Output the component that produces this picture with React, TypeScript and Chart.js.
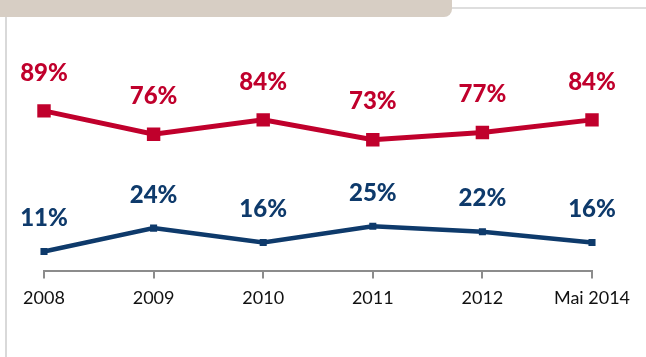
import React, { useEffect, useRef } from "react";
import { Chart, registerables } from "chart.js";

Chart.register(...registerables);

const categories = ["2008", "2009", "2010", "2011", "2012", "Mai 2014"];
const redValues = [89, 76, 84, 73, 77, 84];
const blueValues = [11, 24, 16, 25, 22, 16];

const RED = "#c0002c";
const BLUE = "#0e3a6b";

const labelPlugin = {
  id: "pctLabels",
  afterDatasetsDraw(chart: any) {
    const ctx = chart.ctx;
    ctx.save();
    ctx.font = "900 24px Lato";
    ctx.textAlign = "center";
    ctx.textBaseline = "middle";
    chart.data.datasets.forEach((ds: any, di: number) => {
      const meta = chart.getDatasetMeta(di);
      const off = di === 0 ? 38 : 33;
      ctx.fillStyle = ds.borderColor;
      meta.data.forEach((pt: any, i: number) => {
        ctx.fillText(ds.data[i] + "%", pt.x, pt.y - off);
      });
    });
    ctx.restore();
  },
};

export default function App() {
  const ref = useRef<HTMLCanvasElement | null>(null);
  useEffect(() => {
    if (!ref.current) return;
    const chart = new Chart(ref.current, {
      type: "line",
      data: {
        labels: categories,
        datasets: [
          {
            data: redValues,
            borderColor: RED,
            backgroundColor: RED,
            borderWidth: 5,
            pointStyle: "rect",
            pointRadius: 9.5,
            pointBackgroundColor: RED,
            pointBorderWidth: 0,
            tension: 0,
          },
          {
            data: blueValues,
            borderColor: BLUE,
            backgroundColor: BLUE,
            borderWidth: 4.5,
            pointStyle: "rect",
            pointRadius: 5,
            pointBackgroundColor: BLUE,
            pointBorderWidth: 0,
            tension: 0,
          },
        ],
      },
      options: {
        animation: false,
        responsive: false,
        maintainAspectRatio: false,
        layout: { padding: { left: 44, right: 54, top: 91, bottom: 39 } },
        plugins: { legend: { display: false }, tooltip: { enabled: false } },
        scales: {
          x: {
            offset: false,
            grid: {
              display: true,
              drawOnChartArea: false,
              drawTicks: true,
              tickLength: 7,
              color: "#8c8c8c",
              lineWidth: 2,
            },
            border: { display: true, color: "#8c8c8c", width: 2 },
            ticks: {
              color: "#111",
              font: { family: "Lato", size: 18 },
              padding: 9,
              maxRotation: 0,
              autoSkip: false,
            },
          },
          y: { display: false, min: 0, max: 100 },
        },
      },
      plugins: [labelPlugin],
    });
    return () => chart.destroy();
  }, []);

  return (
    <div style={{ position: "fixed", left: 0, top: 0, width: 646, height: 357, background: "#fff", overflow: "hidden" }}>
      <div style={{ position: "absolute", left: 0, top: 0, width: 452, height: 17, background: "#d7cec4", borderBottomRightRadius: 8 }} />
      <div style={{ position: "absolute", left: 452, top: 7, width: 194, height: 2, background: "#dedede" }} />
      <div style={{ position: "absolute", left: 5, top: 17, width: 2, height: 340, background: "#d9d9d9" }} />
      <canvas ref={ref} width={646} height={357} style={{ position: "absolute", left: 0, top: 0, display: "block" }} />
    </div>
  );
}
